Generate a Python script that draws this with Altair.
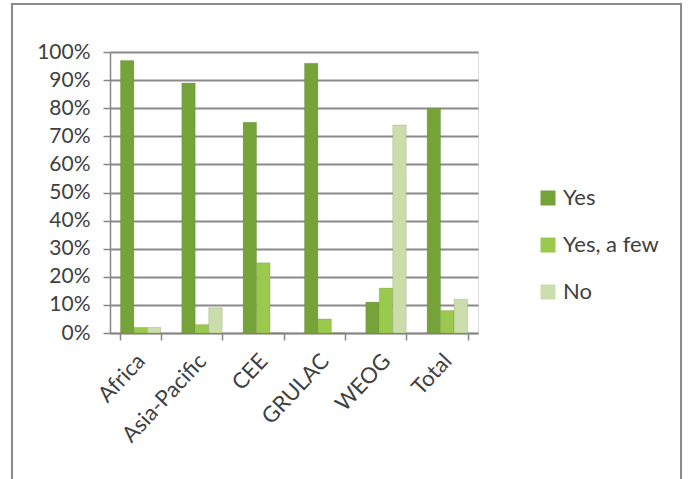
import altair as alt
import pandas as pd

categories = ["Africa", "Asia-Pacific", "CEE", "GRULAC", "WEOG", "Total"]
series = ["Yes", "Yes, a few", "No"]
yes_vals = [0.97, 0.89, 0.75, 0.96, 0.11, 0.80]
few_vals = [0.02, 0.03, 0.25, 0.05, 0.16, 0.08]
no_vals = [0.02, 0.09, 0.00, 0.00, 0.74, 0.12]
colors = ["#76A23A", "#9AC94E", "#CADDAA"]

rows = []
for i, c in enumerate(categories):
    for s, vals in zip(series, [yes_vals, few_vals, no_vals]):
        rows.append({"Region": c, "Answer": s, "Value": vals[i]})
df = pd.DataFrame(rows)

FONT = "Lato"
W, H = 368, 281

bars = alt.Chart(df).mark_bar(stroke="#5a7a2c", strokeWidth=0.4, strokeOpacity=0.5).encode(
    x=alt.X("Region:N", sort=categories, title=None,
            scale=alt.Scale(paddingInner=0.34, paddingOuter=0.17),
            axis=alt.Axis(labelAngle=-47, labelFontSize=22, labelFont=FONT,
                          labelColor="#404040", domainColor="#868686", domainWidth=1.5,
                          tickColor="#868686", tickSize=7, tickWidth=1.5, tickBand="extent",
                          labelPadding=17, grid=False)),
    xOffset=alt.XOffset("Answer:N", sort=series),
    y=alt.Y("Value:Q", title=None,
            scale=alt.Scale(domain=[0, 1], nice=False),
            axis=alt.Axis(format=".0%", values=[i / 10 for i in range(11)],
                          labelFontSize=21, labelFont=FONT, labelColor="#404040",
                          domainColor="#868686", domainWidth=1.5, tickColor="#868686",
                          tickSize=7, tickWidth=1.5, labelPadding=13,
                          grid=True, gridColor="#8a8a8a", gridWidth=1.8)),
    color=alt.Color("Answer:N", sort=series,
                    scale=alt.Scale(domain=series, range=colors),
                    legend=alt.Legend(title=None, orient="none", legendX=427, legendY=135,
                                      symbolType="square", symbolSize=225,
                                      symbolStrokeWidth=0, labelFontSize=22,
                                      labelFont=FONT, labelColor="#404040",
                                      rowPadding=25, labelOffset=4, padding=0)),
)

border = alt.Chart(df).mark_rect(fill=None, stroke="#8a8a8a", strokeWidth=2).encode(
    x=alt.value(-98), x2=alt.value(571), y=alt.value(-48), y2=alt.value(440)
)

chart = alt.layer(border, bars).properties(
    width=W, height=H,
    autosize=alt.AutoSizeParams(type="none"),
    padding={"left": 110, "top": 52, "right": 210, "bottom": 146},
).configure_view(stroke=None).configure(background="white")

chart.save("out.html", embed_options={"renderer": "svg", "actions": False})
